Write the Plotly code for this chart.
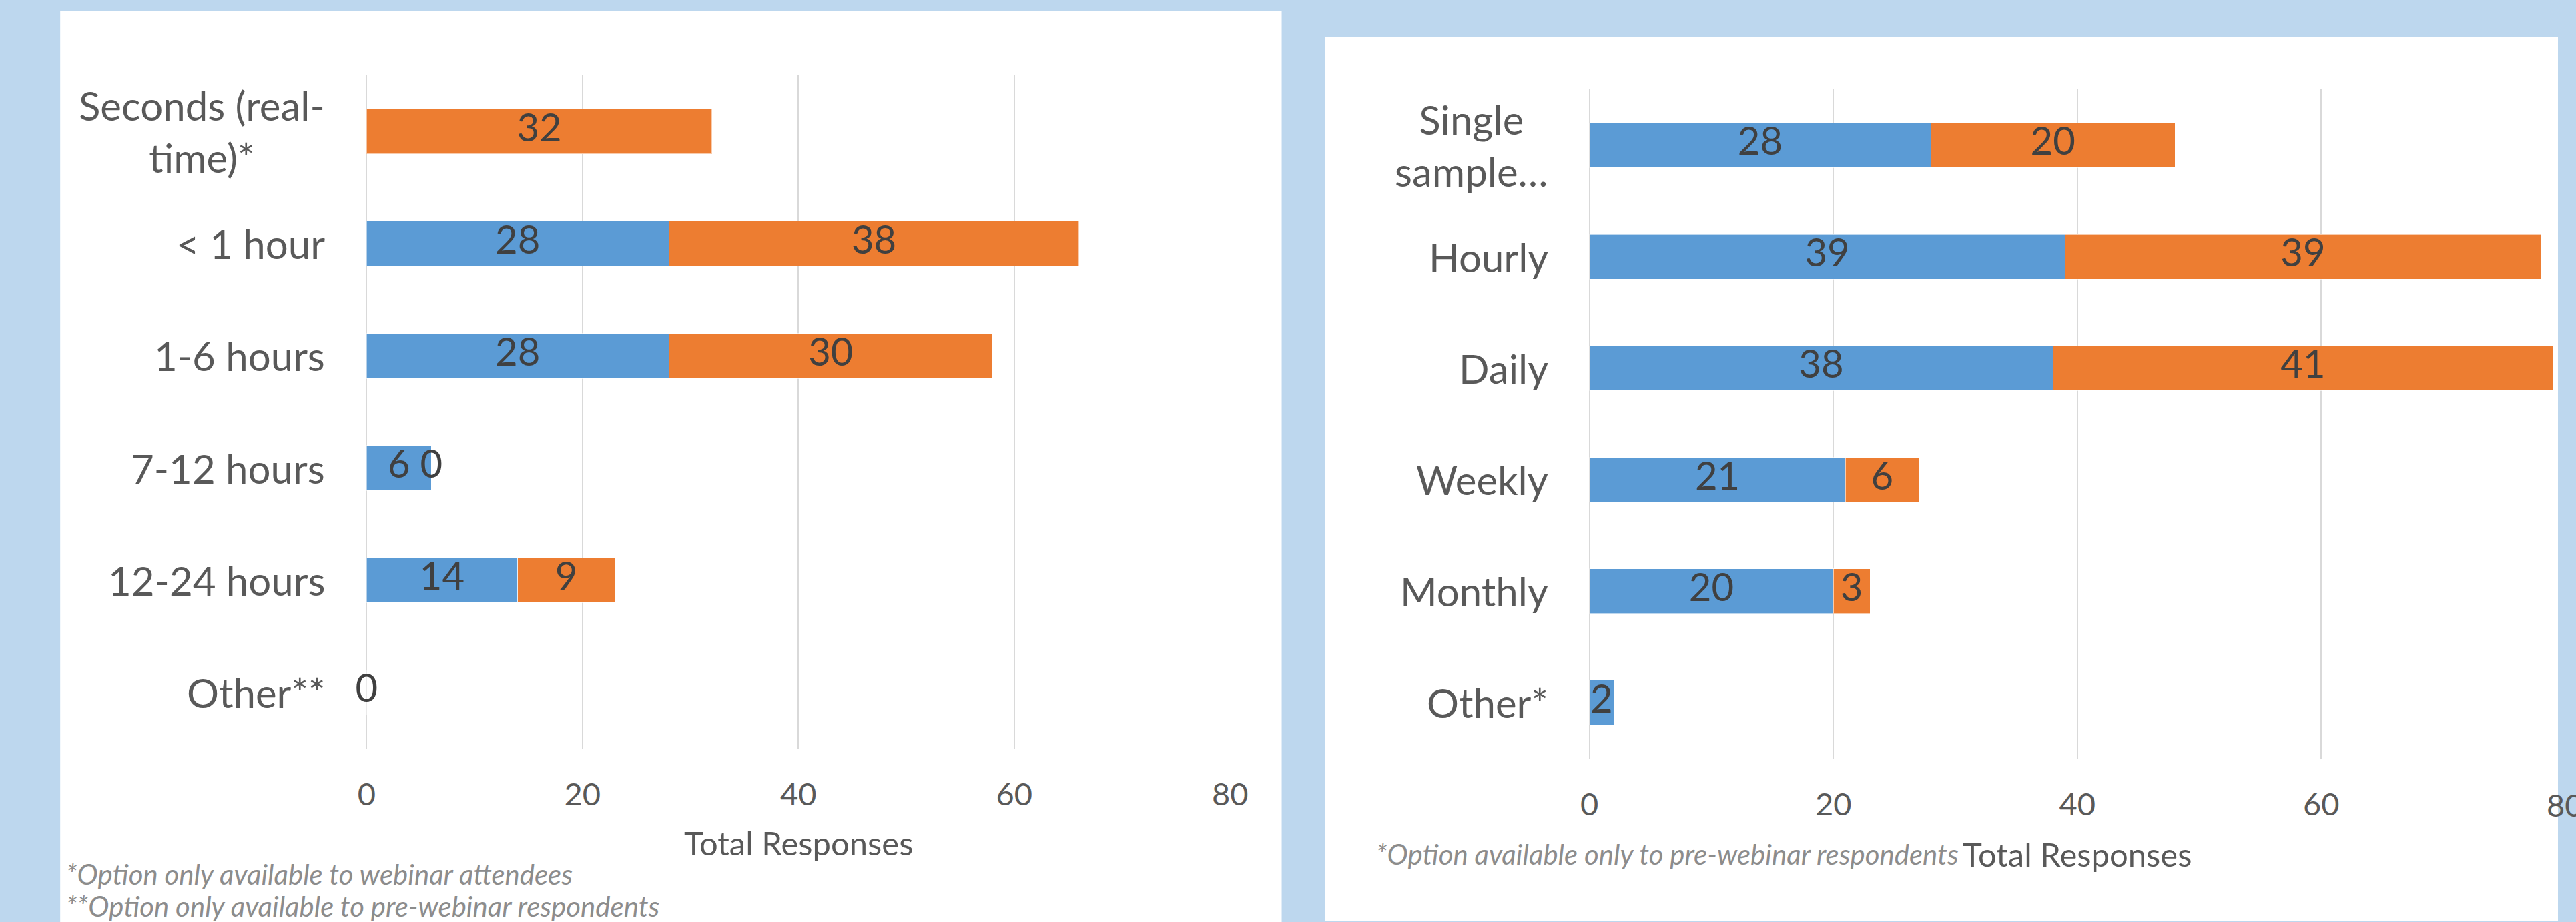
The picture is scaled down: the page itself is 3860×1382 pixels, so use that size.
import plotly.graph_objects as go

# ---- data -------------------------------------------------------------
latency_cats = ["Seconds (real-<br>time)*", "< 1 hour", "1-6 hours",
                "7-12 hours", "12-24 hours", "Other**"]
latency_pre = [None, 28, 28, 6, 14, 0]        # pre-webinar respondents
latency_live = [32, 38, 30, 0, 9, None]       # webinar attendees

freq_cats = ["Single<br>sample…", "Hourly", "Daily", "Weekly", "Monthly", "Other*"]
freq_pre = [28, 39, 38, 21, 20, 2]
freq_live = [20, 39, 41, 6, 3, None]

x_ticks = [0, 20, 40, 60, 80]

# ---- styling ----------------------------------------------------------
W, H = 3860, 1382
BLUE = "#5B9BD5"
ORANGE = "#ED7D31"
BG = "#BDD7EE"
GRID = "#D9D9D9"
AXIS_TXT = "#595959"
LABEL_TXT = "#404040"
NOTE_TXT = "#8C8C8C"
FONT = "Lato"

LEFT_XMAX = 80
RIGHT_XMAX = 79.4

fig = go.Figure()


def add_stack(cats, pre, live, xa, ya):
    fig.add_trace(go.Bar(y=cats, x=pre, orientation="h", marker_color=BLUE,
                         marker_line=dict(width=1, color="rgba(255,255,255,0.6)"),
                         xaxis=xa, yaxis=ya, showlegend=False, hoverinfo="skip"))
    fig.add_trace(go.Bar(y=cats, x=live, orientation="h", marker_color=ORANGE,
                         marker_line=dict(width=1, color="rgba(255,255,255,0.6)"),
                         xaxis=xa, yaxis=ya, showlegend=False, hoverinfo="skip"))
    # value labels centred on each segment
    lx, ly, lt = [], [], []
    for c, p, l in zip(cats, pre, live):
        base = p if p is not None else 0
        if p is not None:
            lx.append(p / 2); ly.append(c); lt.append(str(p))
        if l is not None:
            lx.append(base + l / 2); ly.append(c); lt.append(str(l))
    fig.add_trace(go.Scatter(x=lx, y=ly, text=lt, mode="text",
                             textposition="middle center",
                             textfont=dict(family=FONT, size=58, color=LABEL_TXT),
                             xaxis=xa, yaxis=ya, showlegend=False, hoverinfo="skip",
                             cliponaxis=False))


add_stack(latency_cats, latency_pre, latency_live, "x", "y")
add_stack(freq_cats, freq_pre, freq_live, "x2", "y2")

xaxis_common = dict(
    tickvals=x_ticks, showgrid=True, gridcolor=GRID, gridwidth=2,
    zeroline=True, zerolinecolor=GRID, zerolinewidth=2, showline=False,
    ticks="outside", ticklen=28, tickcolor="rgba(0,0,0,0)",
    tickfont=dict(family=FONT, size=47, color=AXIS_TXT),
    fixedrange=True,
)
yaxis_common = dict(
    autorange=False, range=[5.5, -0.5], showticklabels=False,
    showgrid=False, zeroline=False, showline=False, ticks="",
    type="category",
)

fig.update_layout(
    width=W, height=H,
    margin=dict(l=0, r=0, t=0, b=0),
    paper_bgcolor=BG, plot_bgcolor="white",
    barmode="stack", bargap=0.6,
    font=dict(family=FONT, color=AXIS_TXT),
    xaxis=dict(xaxis_common, domain=[541 / W, 1849 / W], range=[0, LEFT_XMAX]),
    yaxis=dict(yaxis_common, domain=[1 - 1122 / H, 1 - 113 / H], anchor="x"),
    xaxis2=dict(xaxis_common, domain=[2393 / W, 1.0], range=[0, RIGHT_XMAX],
                anchor="y2"),
    yaxis2=dict(yaxis_common, domain=[1 - 1137 / H, 1 - 134 / H], anchor="x2"),
)

# white card panels behind each chart
fig.add_shape(type="rect", xref="paper", yref="paper", layer="below",
              x0=77 / W, x1=1927 / W, y0=0, y1=1 - 17 / H,
              fillcolor="white", line_width=0)
fig.add_shape(type="rect", xref="paper", yref="paper", layer="below",
              x0=1993 / W, x1=1.0, y0=1 - 1380 / H, y1=1 - 55 / H,
              fillcolor="white", line_width=0)

# category labels (wrapped labels are centre-aligned)
for cats, yref, xref in [(latency_cats, "y", "x domain"), (freq_cats, "y2", "x2 domain")]:
    for c in cats:
        fig.add_annotation(x=0, y=c, xref=xref, yref=yref, text=c,
                           xanchor="right", yanchor="middle", align="center",
                           xshift=-60, showarrow=False,
                           font=dict(family=FONT, size=60, color=AXIS_TXT))

# axis titles, centred on the middle of each value axis
fig.add_annotation(x=LEFT_XMAX / 2 / LEFT_XMAX, xref="x domain", y=1 - 1263 / H,
                   yref="paper", text="Total Responses", showarrow=False,
                   xanchor="center", yanchor="middle",
                   font=dict(family=FONT, size=49, color=AXIS_TXT))
fig.add_annotation(x=40 / RIGHT_XMAX, xref="x2 domain", y=1 - 1280 / H,
                   yref="paper", text="Total Responses", showarrow=False,
                   xanchor="center", yanchor="middle",
                   font=dict(family=FONT, size=49, color=AXIS_TXT))

# last tick of the right-hand axis runs past the page edge
fig.add_annotation(x=80 / RIGHT_XMAX, xref="x2 domain", y=1 - 1206 / H, yref="paper",
                   text="80", showarrow=False, xanchor="center", yanchor="middle",
                   font=dict(family=FONT, size=47, color=AXIS_TXT))

# footnotes
fig.add_annotation(x=84 / W, y=1 - 1310 / H, xref="paper", yref="paper",
                   text="<i>*Option only available to webinar attendees</i>",
                   xanchor="left", yanchor="middle", showarrow=False,
                   font=dict(family=FONT, size=42, color=NOTE_TXT))
fig.add_annotation(x=84 / W, y=1 - 1358 / H, xref="paper", yref="paper",
                   text="<i>**Option only available to pre-webinar respondents</i>",
                   xanchor="left", yanchor="middle", showarrow=False,
                   font=dict(family=FONT, size=42, color=NOTE_TXT))
fig.add_annotation(x=2068 / W, y=1 - 1280 / H, xref="paper", yref="paper",
                   text="<i>*Option available only to pre-webinar respondents</i>",
                   xanchor="left", yanchor="middle", showarrow=False,
                   font=dict(family=FONT, size=42, color=NOTE_TXT))

fig.write_html("out.html")
